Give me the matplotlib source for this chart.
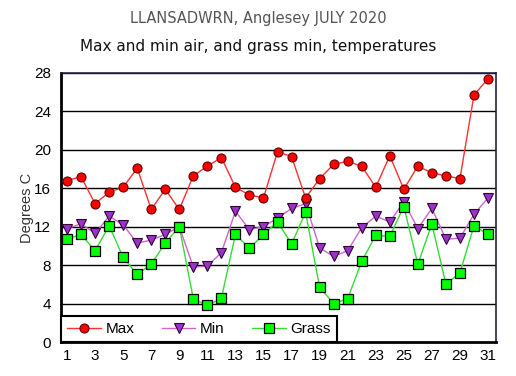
import matplotlib.pyplot as plt
import numpy as np

days = np.arange(1, 32)
max_temp = [16.8, 17.2, 14.4, 15.6, 16.1, 18.1, 13.8, 15.9, 13.8, 17.3,
            18.3, 19.2, 16.1, 15.3, 15.0, 19.8, 19.3, 15.0, 17.0, 18.5,
            18.8, 18.3, 16.1, 19.4, 15.9, 18.3, 17.6, 17.3, 17.0, 25.7, 27.4]
min_temp = [11.8, 12.3, 11.3, 13.1, 12.2, 10.3, 10.6, 11.2, 12.0, 7.8,
            7.9, 9.3, 13.6, 11.7, 12.0, 12.9, 13.9, 14.4, 9.8, 8.9,
            9.5, 11.9, 13.1, 12.5, 14.6, 11.8, 13.9, 10.7, 10.8, 13.3, 15.0]
grass_temp = [10.7, 11.2, 9.5, 12.1, 8.8, 7.05, 8.1, 10.3, 12.0, 4.5,
              3.8, 4.55, 11.2, 9.75, 11.2, 12.5, 10.2, 13.5, 5.7, 4.0,
              4.5, 8.4, 11.1, 11.0, 14.1, 8.1, 12.3, 6.0, 7.2, 12.1, 11.2]
yticks = [0, 4, 8, 12, 16, 20, 24, 28]
xticks = list(range(1, 32, 2))

fig = plt.figure(figsize=(5.16, 3.76), dpi=100)
ax = fig.add_axes([61/516, 34/376, 435/516, 269/376])

# horizontal grid lines
for y in yticks[1:]:
    ax.axhline(y, color='black', lw=1.0, zorder=1)

ax.plot(days, max_temp, color='#ff3030', lw=1, marker='o', ms=6.5,
        mfc='#ff0000', mec='#600000', mew=0.8, label='Max', zorder=4)
ax.plot(days, min_temp, color='#cc66cc', lw=1, marker='v', ms=6.5,
        mfc='#9933cc', mec='#330033', mew=0.8, label='Min', zorder=3)
ax.plot(days, grass_temp, color='#33dd33', lw=1, marker='s', ms=6.5,
        mfc='#00ff00', mec='black', mew=0.9, label='Grass', zorder=3)

ax.set_xlim(0.57, 31.57)
ax.set_ylim(0, 28)
ax.set_xticks(xticks)
ax.set_yticks(yticks)
ax.tick_params(length=0, labelsize=11)
ax.tick_params(axis='y', pad=7)
ax.tick_params(axis='x', pad=5)
for lab in ax.get_xticklabels() + ax.get_yticklabels():
    lab.set_family('Liberation Sans')
for s in ax.spines.values():
    s.set_color('#222244')
    s.set_linewidth(1.2)
ax.spines['left'].set_color('black')
ax.spines['bottom'].set_color('black')
ax.spines['left'].set_linewidth(2)
ax.spines['bottom'].set_linewidth(2)

ax.set_ylabel('Degrees C', family='Liberation Sans', fontsize=10.5,
              color='#333333', labelpad=0)

leg = ax.legend(loc='lower left', bbox_to_anchor=(0, 0, 0.634, 0.126),
                mode='expand', ncol=3, borderaxespad=0, fancybox=False,
                framealpha=1, edgecolor='black', handlelength=2.2,
                handletextpad=0.3, prop={'family': 'Liberation Sans', 'size': 11})
leg.get_frame().set_linewidth(1.5)
leg.set_zorder(5)

fig.text(0.5, 1 - 18/376, 'LLANSADWRN, Anglesey JULY 2020', ha='center',
         va='center', fontsize=10.5, color='#555555')
fig.text(0.5, 1 - 47/376, 'Max and min air, and grass min, temperatures',
         ha='center', va='center', fontsize=11, color='#111111')

fig.savefig('out.png', dpi=100)
